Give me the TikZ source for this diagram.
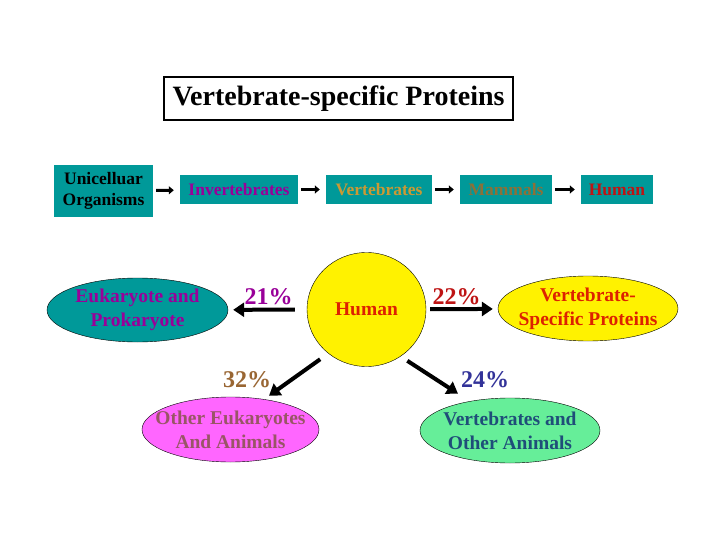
\documentclass[tikz,border=0pt]{standalone}
\usepackage{fontspec}
\setmainfont{Liberation Serif}
\usepackage{tikz}
\usetikzlibrary{shapes.geometric,arrows.meta}
\usepackage{xcolor}

\definecolor{tealbox}{RGB}{0,153,153}
\definecolor{purp}{RGB}{153,0,153}
\definecolor{gold}{RGB}{204,153,51}
\definecolor{mamm}{RGB}{140,112,56}
\definecolor{hred}{RGB}{190,20,20}
\definecolor{orred}{RGB}{221,34,0}
\definecolor{pbrown}{RGB}{153,102,51}
\definecolor{dblue}{RGB}{51,51,153}
\definecolor{oefill}{RGB}{255,102,255}
\definecolor{oetext}{RGB}{153,85,102}
\definecolor{vafill}{RGB}{102,238,153}
\definecolor{vatext}{RGB}{31,78,121}

\begin{document}
\begin{tikzpicture}[x=1pt, y=-1pt,
    box/.style={rectangle, fill=tealbox, minimum height=29pt, inner sep=0pt, align=center, font=\fontsize{17.5}{21}\selectfont\bfseries},
    ell/.style={ellipse, draw=black, thin, inner xsep=-18pt, inner ysep=0pt, align=center, font=\fontsize{19.5}{24}\selectfont\bfseries},
    pct/.style={anchor=base, font=\fontsize{24}{28}\selectfont\bfseries},
    smallarr/.style={-{Triangle[length=5pt,width=8pt]}, line width=3pt, shorten <=3pt, shorten >=6pt},
    bigarr/.style={-{Triangle[length=11pt,width=14pt]}, line width=4pt}
]
    \useasboundingbox (0,0) rectangle (720,540);

    \node[draw, line width=2.5pt, minimum width=349pt, minimum height=43pt, inner sep=0pt, font=\fontsize{28}{32}\selectfont\bfseries] (title) at (338.5,98.5) {Vertebrate-specific Proteins};

    \node[box, minimum width=99pt, minimum height=52pt] (uni) at (103.5,191) {Unicelluar\\Organisms};
    \node[box, minimum width=118pt, text=purp] (inv) at (239,189.5) {Invertebrates};
    \node[box, minimum width=106pt, text=gold] (vert) at (379,189.5) {Vertebrates};
    \node[box, minimum width=92pt, text=mamm] (mamm) at (506,189.5) {Mammals};
    \node[box, minimum width=72pt, text=hred] (hum) at (617,189.5) {Human};

    \draw[smallarr] (uni) -- (inv);
    \draw[smallarr] (inv) -- (vert);
    \draw[smallarr] (vert) -- (mamm);
    \draw[smallarr] (mamm) -- (hum);

    \node[ell, fill=tealbox, text=purp, minimum width=181pt, minimum height=64pt] (euk) at (137.5,310) {Eukaryote and\\Prokaryote};
    \node[ell, fill=yellow, text=orred, minimum width=119pt, minimum height=114pt] (human) at (366.5,309.5) {Human};
    \node[ell, fill=yellow, text=orred, minimum width=180pt, minimum height=65pt] (vsp) at (588,308.5) {Vertebrate-\\Specific Proteins};
    \node[ell, fill=oefill, text=oetext, minimum width=177pt, minimum height=65pt] (oe) at (230.5,429.5) {Other Eukaryotes\\And Animals};
    \node[ell, fill=vafill, text=vatext, minimum width=180pt, minimum height=65pt] (va) at (510,430.5) {Vertebrates and\\Other Animals};

    \node[pct, text=purp] (p21) at (268.5,304) {21\%};
    \node[pct, text=hred] (p22) at (456.5,304) {22\%};
    \node[pct, text=pbrown] (p32) at (247,387) {32\%};
    \node[pct, text=dblue] (p24) at (485,387) {24\%};

    \draw[bigarr, shorten <=12pt, shorten >=5pt] (human) -- (euk);
    \draw[bigarr, shorten <=4pt, shorten >=5pt] (human) -- (vsp);
    \draw[bigarr, shorten <=10pt, shorten >=6pt] (human.229) -- (oe.42);
    \draw[bigarr, shorten <=8pt, shorten >=14pt] (human.306) -- (va.144);
\end{tikzpicture}
\end{document}
